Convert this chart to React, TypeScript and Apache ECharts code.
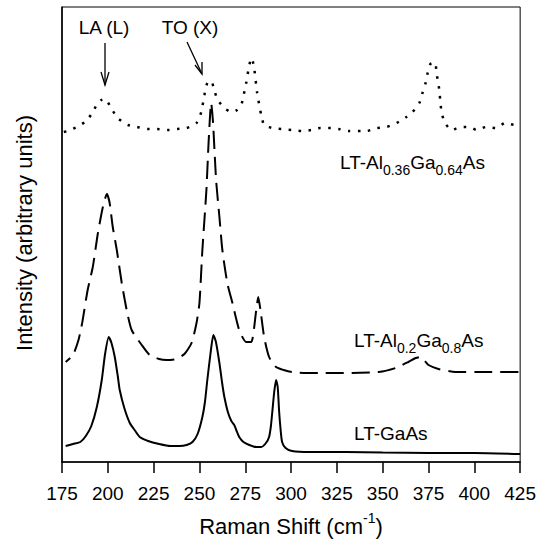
import React, { useEffect, useRef } from "react";
import * as echarts from "echarts";

const xTicks = [175, 200, 225, 250, 275, 300, 325, 350, 375, 400, 425];

// LT-GaAs (solid)
const ltGaAs: [number, number][] = [
  [177, 16], [181, 18], [185, 20], [188, 26], [191, 36], [194, 55], [196.7, 82], [198.5, 108], [200.5, 125],
  [202, 119], [203.8, 105], [205.5, 85], [206.5, 72], [209, 54], [212, 39], [215, 31], [217.4, 25], [222, 21],
  [228, 18], [234, 16], [239, 16], [243, 17], [246.2, 20], [249, 28], [251.6, 45], [253, 60], [254.3, 82],
  [256, 108], [257.6, 127], [259, 120], [260.9, 99], [262.3, 80], [263.6, 65], [265.5, 50], [267.4, 41],
  [269, 37], [270.3, 31], [271.7, 25], [274, 20], [277.2, 17], [281, 15], [283.7, 15], [286.3, 19], [288, 25],
  [289, 36], [289.7, 49], [290.8, 70], [291.8, 82], [292.7, 75], [293.5, 50], [294.3, 32], [295.1, 20],
  [297, 14], [300.5, 11], [310, 10], [330, 10], [350, 9.5], [375, 9], [400, 9], [425, 8],
];

// LT-Al0.2Ga0.8As (dashed)
const ltAl02: [number, number][] = [
  [177, 100], [181, 107], [184, 122], [186, 139], [189, 172], [191.8, 195], [194.6, 229], [197.3, 255],
  [199.5, 268], [201, 259], [202.7, 235], [204.9, 212], [207.6, 179], [210.3, 152], [213, 132], [218.5, 117],
  [222.8, 107], [228, 103], [232, 102], [237.5, 103], [241.8, 108], [245.7, 119], [248.4, 139], [250, 159],
  [251.6, 212], [253.8, 272], [255, 320], [256.4, 359], [257.4, 340], [258.2, 312], [259.2, 279], [260.9, 245],
  [262.5, 212], [265.2, 179], [268, 159], [271.7, 132], [275.5, 120], [278.3, 120], [281, 152], [282.1, 165],
  [283.3, 152], [285.3, 125], [288, 105], [291.8, 95], [296, 92], [300.5, 90], [308, 89], [315, 89], [333, 89],
  [347.8, 90], [357, 94], [364, 100], [368, 104], [370.6, 105], [373, 101], [375, 97], [380.4, 93], [389.7, 90],
  [406, 90], [425, 90],
];

// LT-Al0.36Ga0.64As (dotted)
const ltAl036: [number, number][] = [
  [176, 330], [178, 331], [183, 335], [187.5, 340], [192, 350], [194, 358], [196.5, 362], [198.4, 363],
  [200, 360], [202, 353], [206, 343], [211, 337], [216, 335], [221.7, 333], [227, 333], [232.6, 332], [238, 333],
  [243, 334], [246, 336], [248.4, 339], [251, 350], [252.7, 367], [254.3, 379], [256.5, 381], [258, 372],
  [260, 362], [263.6, 354], [266, 351], [268, 350], [270.5, 352], [272.8, 357], [274, 366], [275.5, 379],
  [277, 395], [278.3, 404], [279.2, 400], [280, 392], [281.5, 369], [283.7, 347], [285.3, 337], [289.7, 334],
  [295, 333], [300.5, 332], [306, 331], [311, 332], [316, 334], [321.7, 334], [326, 333], [331.5, 331],
  [341.3, 331], [346.7, 334], [352, 335], [357.6, 339], [363, 345], [366.3, 350], [370, 359], [371.7, 369],
  [373.4, 379], [374.5, 389], [376, 398], [377.2, 399], [378.8, 399], [379.3, 389], [380.4, 379], [381, 369],
  [381.5, 360], [382, 351], [383.7, 340], [387.5, 332], [393, 335], [397.8, 335], [401, 332], [406.5, 335],
  [412, 334], [416.8, 339], [422, 337], [425, 340],
];

const FONT = "'Liberation Sans', Arial, sans-serif";

const subRich = {
  m: { fontSize: 19, fontFamily: FONT, color: "#000", lineHeight: 30, verticalAlign: "middle" },
  s: { fontSize: 14, fontFamily: FONT, color: "#000", lineHeight: 14, verticalAlign: "bottom" },
};

export default function App() {
  const ref = useRef<HTMLDivElement>(null);
  useEffect(() => {
    if (!ref.current) return;
    const chart = echarts.init(ref.current, undefined, { renderer: "svg" });
    const option: any = {
      animation: false,
      backgroundColor: "#fff",
      grid: {
        left: 62, right: 18, top: 7, bottom: 88,
        show: true, borderColor: "#000", borderWidth: 1, backgroundColor: "transparent",
      },
      xAxis: {
        type: "value",
        min: 175, max: 425, interval: 25,
        axisLine: { show: true, lineStyle: { color: "#000", width: 1.5 } },
        axisTick: { show: true, inside: false, length: 11, lineStyle: { color: "#000", width: 1.5 } },
        axisLabel: {
          color: "#000", fontSize: 19, fontFamily: FONT, margin: 22,
          formatter: (v: number) => (xTicks.includes(v) ? String(v) : ""),
        },
        splitLine: { show: false },
      },
      yAxis: {
        type: "value",
        min: 0, max: 455,
        axisLine: { show: true, lineStyle: { color: "#000", width: 1.5 } },
        axisTick: { show: false },
        axisLabel: { show: false },
        splitLine: { show: false },
      },
      series: [
        {
          type: "line", name: "LT-GaAs", data: ltGaAs, showSymbol: false, smooth: 0.2,
          lineStyle: { color: "#000", width: 2 },
        },
        {
          type: "line", name: "LT-Al0.2Ga0.8As", data: ltAl02, showSymbol: false, smooth: 0.2,
          lineStyle: { color: "#000", width: 2, type: [18, 8], dashOffset: 12 },
        },
        {
          type: "line", name: "LT-Al0.36Ga0.64As", data: ltAl036, showSymbol: false, smooth: 0.2,
          lineStyle: { color: "#000", width: 2.5, type: [2.5, 7.5] },
        },
      ],
      graphic: [
        {
          type: "text", x: 104, y: 27,
          style: { text: "LA (L)", fontSize: 19, fontFamily: FONT, fill: "#000", align: "center", verticalAlign: "middle" },
        },
        {
          type: "text", x: 190, y: 27,
          style: { text: "TO (X)", fontSize: 19, fontFamily: FONT, fill: "#000", align: "center", verticalAlign: "middle" },
        },
        { type: "line", shape: { x1: 105, y1: 43, x2: 105, y2: 85 }, style: { stroke: "#000", lineWidth: 1.3 } },
        { type: "polyline", shape: { points: [[101, 72], [105, 85], [109, 72]] }, style: { stroke: "#000", lineWidth: 1.3, fill: "none" } },
        { type: "line", shape: { x1: 187, y1: 42, x2: 202, y2: 74 }, style: { stroke: "#000", lineWidth: 1.3 } },
        { type: "polyline", shape: { points: [[195, 65], [202, 74], [202, 62]] }, style: { stroke: "#000", lineWidth: 1.3, fill: "none" } },
        {
          type: "text", x: 340, y: 162,
          style: { text: "{m|LT-Al}{s|0.36}{m|Ga}{s|0.64}{m|As}", rich: subRich, align: "left", verticalAlign: "middle" },
        },
        {
          type: "text", x: 354, y: 340,
          style: { text: "{m|LT-Al}{s|0.2}{m|Ga}{s|0.8}{m|As}", rich: subRich, align: "left", verticalAlign: "middle" },
        },
        {
          type: "text", x: 354, y: 433,
          style: { text: "LT-GaAs", fontSize: 19, fontFamily: FONT, fill: "#000", align: "left", verticalAlign: "middle" },
        },
        {
          type: "text", x: 291, y: 526,
          style: {
            text: "{a|Raman Shift (cm}{b|-1}{a|)}",
            rich: {
              a: { fontSize: 22, fontFamily: FONT, color: "#000", lineHeight: 30, verticalAlign: "middle" },
              b: { fontSize: 14, fontFamily: FONT, color: "#000", lineHeight: 14, verticalAlign: "top" },
            },
            align: "center", verticalAlign: "middle",
          },
        },
        {
          type: "text", x: 24, y: 233, rotation: Math.PI / 2,
          style: { text: "Intensity (arbitrary units)", fontSize: 22, fontFamily: FONT, fill: "#000", align: "center", verticalAlign: "middle" },
        },
      ],
    };
    chart.setOption(option);
    return () => chart.dispose();
  }, []);
  return <div ref={ref} style={{ position: "absolute", left: 0, top: 0, width: 539, height: 550 }} />;
}
